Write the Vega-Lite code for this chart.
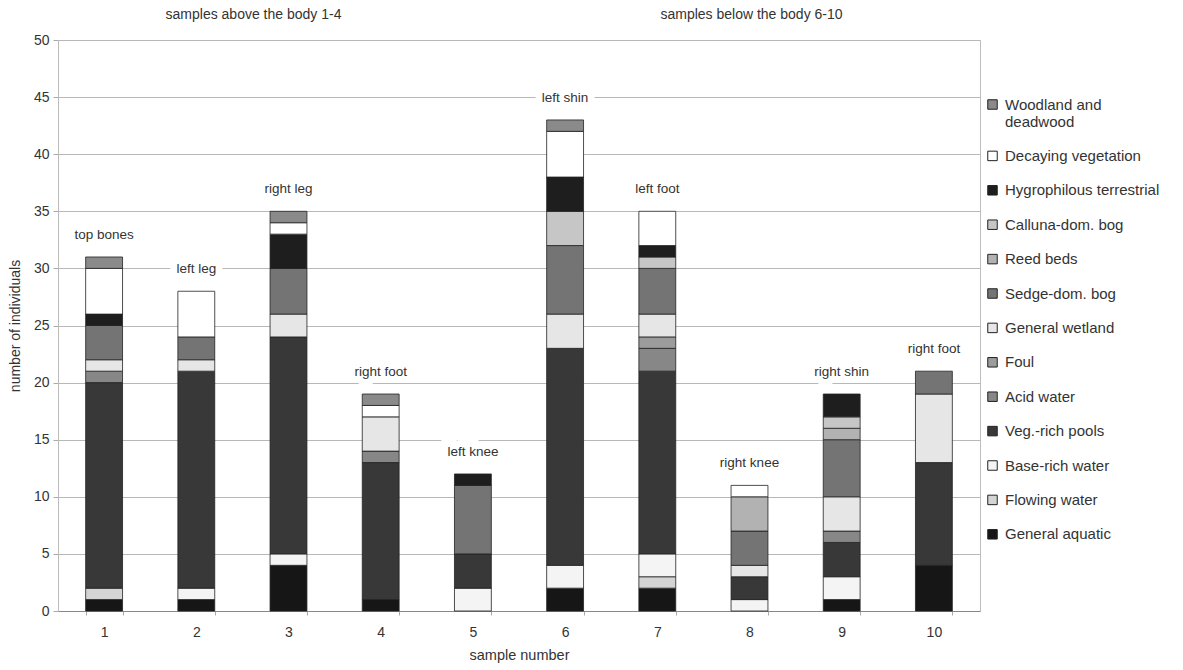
{
  "$schema": "https://vega.github.io/schema/vega-lite/v6.json",
  "width": 922,
  "height": 571,
  "autosize": {"type": "none"},
  "padding": {"left": 58, "top": 40, "right": 203, "bottom": 59},
  "background": "white",
  "config": {
    "font": "Liberation Sans",
    "view": {"stroke": "#bdbdbd", "strokeWidth": 1},
    "axis": {"labelFont": "Liberation Sans", "titleFont": "Liberation Sans", "labelColor": "#333", "titleColor": "#333", "titleFontWeight": "normal"}
  },
  "datasets": {
    "counts": [
      {"sample": "1", "site": "top bones", "habitat": "General aquatic", "count": 1},
      {"sample": "1", "site": "top bones", "habitat": "Flowing water", "count": 1},
      {"sample": "1", "site": "top bones", "habitat": "Veg.-rich pools", "count": 18},
      {"sample": "1", "site": "top bones", "habitat": "Acid water", "count": 1},
      {"sample": "1", "site": "top bones", "habitat": "General wetland", "count": 1},
      {"sample": "1", "site": "top bones", "habitat": "Sedge-dom. bog", "count": 3},
      {"sample": "1", "site": "top bones", "habitat": "Hygrophilous terrestrial", "count": 1},
      {"sample": "1", "site": "top bones", "habitat": "Decaying vegetation", "count": 4},
      {"sample": "1", "site": "top bones", "habitat": "Woodland and deadwood", "count": 1},

      {"sample": "2", "site": "left leg", "habitat": "General aquatic", "count": 1},
      {"sample": "2", "site": "left leg", "habitat": "Base-rich water", "count": 1},
      {"sample": "2", "site": "left leg", "habitat": "Veg.-rich pools", "count": 19},
      {"sample": "2", "site": "left leg", "habitat": "General wetland", "count": 1},
      {"sample": "2", "site": "left leg", "habitat": "Sedge-dom. bog", "count": 2},
      {"sample": "2", "site": "left leg", "habitat": "Decaying vegetation", "count": 4},

      {"sample": "3", "site": "right leg", "habitat": "General aquatic", "count": 4},
      {"sample": "3", "site": "right leg", "habitat": "Base-rich water", "count": 1},
      {"sample": "3", "site": "right leg", "habitat": "Veg.-rich pools", "count": 19},
      {"sample": "3", "site": "right leg", "habitat": "General wetland", "count": 2},
      {"sample": "3", "site": "right leg", "habitat": "Sedge-dom. bog", "count": 4},
      {"sample": "3", "site": "right leg", "habitat": "Hygrophilous terrestrial", "count": 3},
      {"sample": "3", "site": "right leg", "habitat": "Decaying vegetation", "count": 1},
      {"sample": "3", "site": "right leg", "habitat": "Woodland and deadwood", "count": 1},

      {"sample": "4", "site": "right foot", "habitat": "General aquatic", "count": 1},
      {"sample": "4", "site": "right foot", "habitat": "Veg.-rich pools", "count": 12},
      {"sample": "4", "site": "right foot", "habitat": "Acid water", "count": 1},
      {"sample": "4", "site": "right foot", "habitat": "General wetland", "count": 3},
      {"sample": "4", "site": "right foot", "habitat": "Decaying vegetation", "count": 1},
      {"sample": "4", "site": "right foot", "habitat": "Woodland and deadwood", "count": 1},

      {"sample": "5", "site": "left knee", "habitat": "Base-rich water", "count": 2},
      {"sample": "5", "site": "left knee", "habitat": "Veg.-rich pools", "count": 3},
      {"sample": "5", "site": "left knee", "habitat": "Sedge-dom. bog", "count": 6},
      {"sample": "5", "site": "left knee", "habitat": "Hygrophilous terrestrial", "count": 1},

      {"sample": "6", "site": "left shin", "habitat": "General aquatic", "count": 2},
      {"sample": "6", "site": "left shin", "habitat": "Base-rich water", "count": 2},
      {"sample": "6", "site": "left shin", "habitat": "Veg.-rich pools", "count": 19},
      {"sample": "6", "site": "left shin", "habitat": "General wetland", "count": 3},
      {"sample": "6", "site": "left shin", "habitat": "Sedge-dom. bog", "count": 6},
      {"sample": "6", "site": "left shin", "habitat": "Calluna-dom. bog", "count": 3},
      {"sample": "6", "site": "left shin", "habitat": "Hygrophilous terrestrial", "count": 3},
      {"sample": "6", "site": "left shin", "habitat": "Decaying vegetation", "count": 4},
      {"sample": "6", "site": "left shin", "habitat": "Woodland and deadwood", "count": 1},

      {"sample": "7", "site": "left foot", "habitat": "General aquatic", "count": 2},
      {"sample": "7", "site": "left foot", "habitat": "Flowing water", "count": 1},
      {"sample": "7", "site": "left foot", "habitat": "Base-rich water", "count": 2},
      {"sample": "7", "site": "left foot", "habitat": "Veg.-rich pools", "count": 16},
      {"sample": "7", "site": "left foot", "habitat": "Acid water", "count": 2},
      {"sample": "7", "site": "left foot", "habitat": "Foul", "count": 1},
      {"sample": "7", "site": "left foot", "habitat": "General wetland", "count": 2},
      {"sample": "7", "site": "left foot", "habitat": "Sedge-dom. bog", "count": 4},
      {"sample": "7", "site": "left foot", "habitat": "Calluna-dom. bog", "count": 1},
      {"sample": "7", "site": "left foot", "habitat": "Hygrophilous terrestrial", "count": 1},
      {"sample": "7", "site": "left foot", "habitat": "Decaying vegetation", "count": 3},

      {"sample": "8", "site": "right knee", "habitat": "Base-rich water", "count": 1},
      {"sample": "8", "site": "right knee", "habitat": "Veg.-rich pools", "count": 2},
      {"sample": "8", "site": "right knee", "habitat": "General wetland", "count": 1},
      {"sample": "8", "site": "right knee", "habitat": "Sedge-dom. bog", "count": 3},
      {"sample": "8", "site": "right knee", "habitat": "Reed beds", "count": 3},
      {"sample": "8", "site": "right knee", "habitat": "Decaying vegetation", "count": 1},

      {"sample": "9", "site": "right shin", "habitat": "General aquatic", "count": 1},
      {"sample": "9", "site": "right shin", "habitat": "Base-rich water", "count": 2},
      {"sample": "9", "site": "right shin", "habitat": "Veg.-rich pools", "count": 3},
      {"sample": "9", "site": "right shin", "habitat": "Acid water", "count": 1},
      {"sample": "9", "site": "right shin", "habitat": "General wetland", "count": 3},
      {"sample": "9", "site": "right shin", "habitat": "Sedge-dom. bog", "count": 5},
      {"sample": "9", "site": "right shin", "habitat": "Reed beds", "count": 1},
      {"sample": "9", "site": "right shin", "habitat": "Calluna-dom. bog", "count": 1},
      {"sample": "9", "site": "right shin", "habitat": "Hygrophilous terrestrial", "count": 2},

      {"sample": "10", "site": "right foot", "habitat": "General aquatic", "count": 4},
      {"sample": "10", "site": "right foot", "habitat": "Veg.-rich pools", "count": 9},
      {"sample": "10", "site": "right foot", "habitat": "General wetland", "count": 6},
      {"sample": "10", "site": "right foot", "habitat": "Sedge-dom. bog", "count": 2}
    ],
    "groups": [
      {"sample": "3", "text": "samples above the body 1-4"},
      {"sample": "8", "text": "samples below the body 6-10"}
    ]
  },
  "encoding": {
    "x": {
      "field": "sample",
      "type": "ordinal",
      "sort": ["1", "2", "3", "4", "5", "6", "7", "8", "9", "10"],
      "scale": {"paddingInner": 0.6, "paddingOuter": 0.3},
      "axis": {
        "title": "sample number",
        "titleFontSize": 14.5,
        "titlePadding": 9,
        "labelFontSize": 14,
        "labelAngle": 0,
        "labelPadding": 10,
        "tickBand": "extent",
        "tickSize": 4,
        "tickColor": "#aaa",
        "domainColor": "#888",
        "grid": false
      }
    }
  },
  "layer": [
    {
      "data": {"name": "counts"},
      "transform": [
        {"calculate": "indexof(['General aquatic','Flowing water','Base-rich water','Veg.-rich pools','Acid water','Foul','General wetland','Sedge-dom. bog','Reed beds','Calluna-dom. bog','Hygrophilous terrestrial','Decaying vegetation','Woodland and deadwood'], datum.habitat)", "as": "stackorder"}
      ],
      "mark": {"type": "bar", "stroke": "#222", "strokeWidth": 0.8},
      "encoding": {
        "y": {
          "field": "count",
          "type": "quantitative",
          "stack": "zero",
          "scale": {"domain": [0, 50], "nice": false},
          "axis": {
            "title": "number of individuals",
            "titleFontSize": 14,
            "titlePadding": 11,
            "labelFontSize": 14,
            "labelPadding": 4,
            "values": [0, 5, 10, 15, 20, 25, 30, 35, 40, 45, 50],
            "tickSize": 5,
            "tickColor": "#aaa",
            "domainColor": "#bbb",
            "gridColor": "#b8b8b8",
            "gridWidth": 1
          }
        },
        "order": {"field": "stackorder", "type": "quantitative", "sort": "ascending"},
        "color": {
          "field": "habitat",
          "type": "nominal",
          "scale": {
            "domain": ["Woodland and deadwood", "Decaying vegetation", "Hygrophilous terrestrial", "Calluna-dom. bog", "Reed beds", "Sedge-dom. bog", "General wetland", "Foul", "Acid water", "Veg.-rich pools", "Base-rich water", "Flowing water", "General aquatic"],
            "range": ["#8a8a8a", "#ffffff", "#1e1e1e", "#c6c6c6", "#b2b2b2", "#747474", "#e6e6e6", "#9c9c9c", "#878787", "#383838", "#f4f4f4", "#d4d4d4", "#161616"]
          },
          "legend": {
            "title": null,
            "orient": "none",
            "legendX": 927,
            "legendY": 57,
            "symbolType": "square",
            "symbolSize": 90,
            "symbolStrokeColor": "#222",
            "symbolStrokeWidth": 1,
            "labelFontSize": 15,
            "labelColor": "#333",
            "labelFont": "Liberation Sans",
            "labelLimit": 220,
            "labelOffset": 5,
            "rowPadding": 18.4,
            "labelExpr": "datum.label == 'Woodland and deadwood' ? ['Woodland and', 'deadwood'] : datum.label"
          }
        }
      }
    },
    {
      "data": {"name": "counts"},
      "transform": [
        {"aggregate": [{"op": "sum", "field": "count", "as": "total"}], "groupby": ["sample", "site"]}
      ],
      "mark": {"type": "text", "dy": -22, "fontSize": 13.5, "stroke": "white", "strokeWidth": 14, "fill": "white"},
      "encoding": {
        "y": {"field": "total", "type": "quantitative"},
        "text": {"field": "site"}
      }
    },
    {
      "data": {"name": "counts"},
      "transform": [
        {"aggregate": [{"op": "sum", "field": "count", "as": "total"}], "groupby": ["sample", "site"]}
      ],
      "mark": {"type": "text", "dy": -22, "fontSize": 13.5, "color": "#333"},
      "encoding": {
        "y": {"field": "total", "type": "quantitative"},
        "text": {"field": "site"}
      }
    },
    {
      "data": {"name": "groups"},
      "transform": [{"filter": "datum.sample == '3'"}],
      "mark": {"type": "text", "dy": -25, "dx": -35, "fontSize": 14, "color": "#333"},
      "encoding": {
        "y": {"datum": 50, "type": "quantitative"},
        "text": {"field": "text"}
      }
    },
    {
      "data": {"name": "groups"},
      "transform": [{"filter": "datum.sample == '8'"}],
      "mark": {"type": "text", "dy": -25, "dx": 2, "fontSize": 14, "color": "#333"},
      "encoding": {
        "y": {"datum": 50, "type": "quantitative"},
        "text": {"field": "text"}
      }
    }
  ]
}
